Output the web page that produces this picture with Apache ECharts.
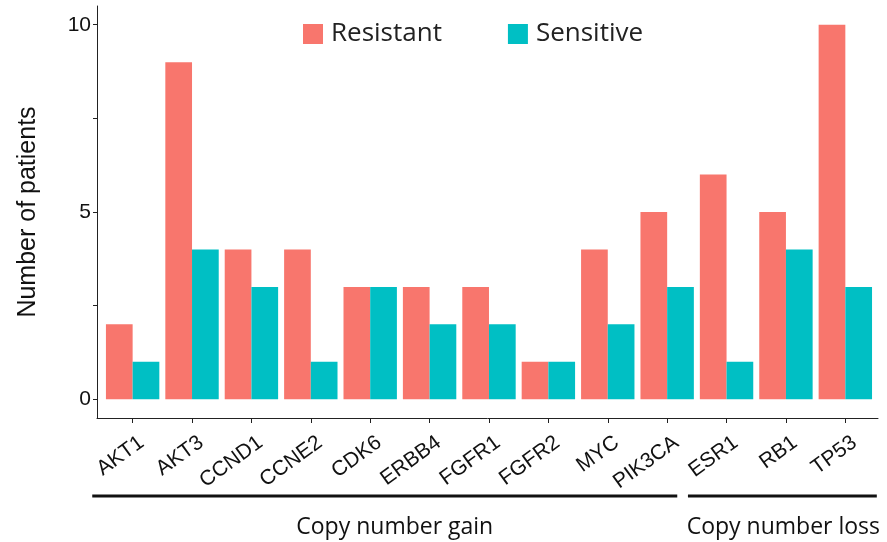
<!DOCTYPE html>
<html>
<head>
<meta charset="utf-8">
<script src="https://cdn.jsdelivr.net/npm/echarts@6/dist/echarts.min.js"></script>
<style>html,body{margin:0;padding:0;background:#fff}#c{width:887px;height:542px}</style>
</head>
<body>
<div id="c"></div>
<script>
const categories = ['AKT1','AKT3','CCND1','CCNE2','CDK6','ERBB4','FGFR1','FGFR2','MYC','PIK3CA','ESR1','RB1','TP53'];
const resistant = [2, 9, 4, 4, 3, 3, 3, 1, 4, 5, 6, 5, 10];
const sensitive = [1, 4, 3, 1, 3, 2, 2, 1, 2, 3, 1, 4, 3];
const yTicks = [0, 2.5, 5, 7.5, 10];
const yLabels = [0, 5, 10];
const groupNames = ['Copy number gain', 'Copy number loss'];
const groupFirst = [0, 10];
const groupLast = [9, 12];

const chart = echarts.init(document.getElementById('c'), null, {renderer: 'canvas'});
const idx = categories.map((c, i) => i);
const labelPos = idx.map(i => i + 0.05);
const axisFont = '"Liberation Sans", Arial, sans-serif';
const option = {
  animation: false,
  backgroundColor: '#fff',
  grid: {left: 97, right: 9, top: 6, bottom: 124, containLabel: false},
  legend: {
    top: 21, left: 303, padding: 0, itemWidth: 20, itemHeight: 20, itemGap: 66,
    icon: 'rect',
    textStyle: {fontFamily: '"Open Sans", sans-serif', fontSize: 26, color: '#222', padding: [0, 0, 0, 3]},
    data: ['Resistant', 'Sensitive']
  },
  xAxis: {
    type: 'value', min: -0.6, max: 12.55,
    splitLine: {show: false},
    axisLine: {show: true, onZero: false, lineStyle: {color: '#222', width: 1}},
    axisTick: {show: true, customValues: idx, length: 5, lineStyle: {color: '#222'}},
    axisLabel: {
      customValues: labelPos, rotate: 36, margin: 14, align: 'right', verticalAlign: 'top',
      formatter: v => categories[Math.round(v)],
      fontFamily: axisFont, fontSize: 21, color: '#111'
    }
  },
  yAxis: {
    type: 'value', min: -0.5, max: 10.5,
    name: 'Number of patients', nameLocation: 'middle', nameGap: 56,
    nameTextStyle: {fontFamily: axisFont, fontSize: 25, color: '#111'},
    splitLine: {show: false},
    axisLine: {show: true, onZero: false, lineStyle: {color: '#222', width: 1}},
    axisTick: {show: true, customValues: yTicks, length: 4, lineStyle: {color: '#222'}},
    axisLabel: {customValues: yLabels, margin: 6, fontFamily: axisFont, fontSize: 21, color: '#111'}
  },
  series: [
    {name: 'Resistant', type: 'bar', data: resistant.map((v, i) => [i, v]), barWidth: 26.7, barGap: '0%',
     itemStyle: {color: '#F8766D'}},
    {name: 'Sensitive', type: 'bar', data: sensitive.map((v, i) => [i, v]), barWidth: 26.7, barGap: '0%',
     itemStyle: {color: '#00BFC4'}}
  ]
};
chart.setOption(option);

const padLeft = [0.68, 0.65];
const padRight = [0.17, 0.53];
const graphics = [];
groupNames.forEach((name, g) => {
  const x0 = chart.convertToPixel({xAxisIndex: 0}, groupFirst[g] - padLeft[g]);
  const x1 = chart.convertToPixel({xAxisIndex: 0}, groupLast[g] + padRight[g]);
  graphics.push({type: 'line', shape: {x1: x0, y1: 496, x2: x1, y2: 496}, style: {stroke: '#111', lineWidth: 3}});
  graphics.push({type: 'text', x: (x0 + x1) / 2 + (g === 0 ? 10 : 1), y: 527,
    style: {text: name, fontFamily: '"Open Sans", sans-serif', fontSize: 23, fill: '#111', align: 'center', verticalAlign: 'middle'}});
});
chart.setOption({graphic: graphics});
</script>
</body>
</html>
